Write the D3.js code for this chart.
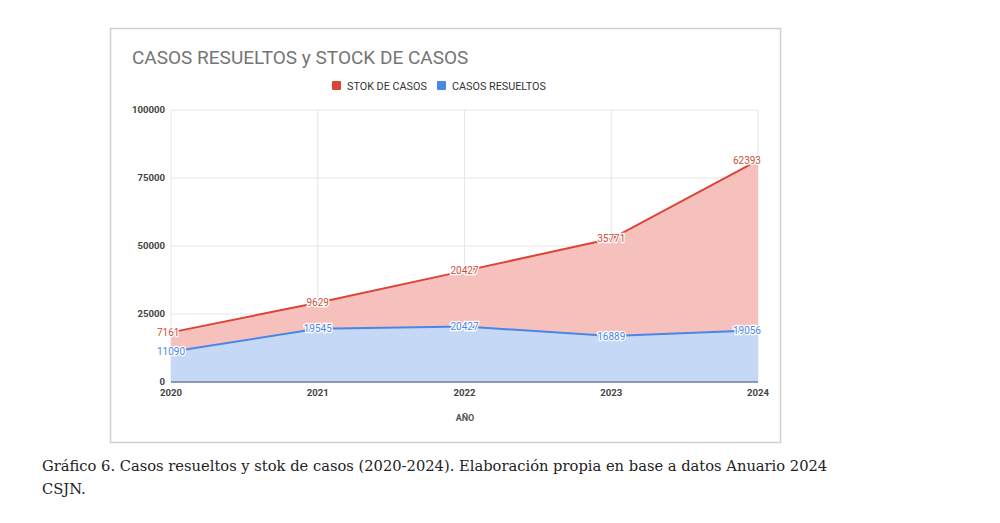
<!DOCTYPE html>
<html>
<head>
<meta charset="utf-8">
<script src="https://cdn.jsdelivr.net/npm/d3@7"></script>
<style>
  body { margin: 0; background: #fff; }
  svg { display: block; }
</style>
</head>
<body>
<svg id="chart" width="1000" height="523"></svg>
<script>
var years = ["2020", "2021", "2022", "2023", "2024"];
var resueltos = [11090, 19545, 20427, 16889, 19056];
var stock = [7161, 9629, 20427, 35771, 62393];
var yTicks = [0, 25000, 50000, 75000, 100000];

var red = '#db4437', redFill = '#f6c1bd',
    blue = '#4a86e8', blueFill = '#c5d9f7';

var svg = d3.select('#chart');

// frame
svg.append('rect').attr('x', 110.5).attr('y', 28.5).attr('width', 670).attr('height', 414)
  .attr('fill', '#fff').attr('stroke', '#d0d0d0').attr('stroke-width', 1.5);

svg.append('text').attr('x', 132).attr('y', 64).text('CASOS RESUELTOS y STOCK DE CASOS')
  .style('font-family', 'Roboto, Arial, sans-serif').style('font-size', '19px').attr('fill', '#757575');

// legend
var legend = [{name: 'STOK DE CASOS', color: red, x: 332}, {name: 'CASOS RESUELTOS', color: blue, x: 437}];
var lg = svg.selectAll('.lg').data(legend).enter().append('g').attr('transform', function(d) { return 'translate(' + d.x + ',81)'; });
lg.append('rect').attr('width', 9).attr('height', 9).attr('rx', 1).attr('fill', function(d) { return d.color; });
lg.append('text').attr('x', 15).attr('y', 8.5).text(function(d) { return d.name; })
  .style('font-family', 'Roboto, Arial, sans-serif').style('font-size', '10.8px').attr('fill', '#333');

var x = d3.scalePoint().domain(years).range([171, 758]);
var y = d3.scaleLinear().domain([0, 100000]).range([382, 110]);

var grid = svg.append('g');
grid.selectAll('.hg').data(yTicks).enter().append('line')
  .attr('x1', 171).attr('x2', 758).attr('y1', function(d) { return y(d); }).attr('y2', function(d) { return y(d); })
  .attr('stroke', '#e6e6e6');
grid.selectAll('.vg').data(years).enter().append('line')
  .attr('y1', 110).attr('y2', 382).attr('x1', function(d) { return x(d); }).attr('x2', function(d) { return x(d); })
  .attr('stroke', '#e6e6e6');

var rows = years.map(function(yr, i) { return {year: yr, resueltos: resueltos[i], stock: stock[i]}; });
var series = d3.stack().keys(['resueltos', 'stock'])(rows);
var fills = [blueFill, redFill], lines = [blue, red];

var area = d3.area().x(function(d) { return x(d.data.year); }).y0(function(d) { return y(d[0]); }).y1(function(d) { return y(d[1]); });
var line = d3.line().x(function(d) { return x(d.data.year); }).y(function(d) { return y(d[1]); });

svg.selectAll('.area').data(series).enter().append('path')
  .attr('d', area).attr('fill', function(d, i) { return fills[i]; });
svg.selectAll('.line').data(series).enter().append('path')
  .attr('d', line).attr('fill', 'none').attr('stroke-width', 2).attr('stroke', function(d, i) { return lines[i]; });

// baseline
svg.append('line').attr('x1', 171).attr('x2', 758).attr('y1', y(0)).attr('y2', y(0)).attr('stroke', '#6f7fa8').attr('stroke-width', 1.5);

// y labels
svg.append('g').selectAll('text').data(yTicks).enter().append('text')
  .attr('x', 165).attr('y', function(d) { return y(d) + 3; }).attr('text-anchor', 'end').text(function(d) { return d; })
  .style('font-family', 'Roboto, Arial, sans-serif').style('font-size', '9.6px').style('font-weight', 'bold').attr('fill', '#444');

// x labels
svg.append('g').selectAll('text').data(years).enter().append('text')
  .attr('x', function(d) { return x(d); }).attr('y', 396).attr('text-anchor', 'middle').text(function(d) { return d; })
  .style('font-family', 'Roboto, Arial, sans-serif').style('font-size', '9.6px').style('font-weight', 'bold').attr('fill', '#444');

svg.append('text').attr('x', 465).attr('y', 421).attr('text-anchor', 'middle').text('AÑO')
  .style('font-family', 'Roboto, Arial, sans-serif').style('font-size', '9px').style('font-weight', 'bold').attr('fill', '#555');

// data labels
series.forEach(function(s, si) {
  svg.append('g').selectAll('text').data(s).enter().append('text')
    .attr('x', function(d) { return x(d.data.year); })
    .attr('y', function(d) { return y(d[1]) + 3.5; })
    .attr('text-anchor', function(d, i) { return i === 0 ? 'start' : (i === s.length - 1 ? 'end' : 'middle'); })
    .attr('dx', function(d, i) { return i === 0 ? -14 : (i === s.length - 1 ? 3 : 0); })
    .text(function(d) { return d.data[s.key]; })
    .style('font-family', 'Roboto, Arial, sans-serif').style('font-size', '10px')
    .attr('fill', si === 0 ? '#4a86e8' : '#c9503f')
    .attr('stroke', '#fff').attr('stroke-width', 2.5).attr('paint-order', 'stroke');
});

// caption
var cap = svg.append('text').style('font-family', '"DejaVu Serif", "Liberation Serif", serif').style('font-size', '14.7px').attr('fill', '#222');
cap.append('tspan').attr('x', 42).attr('y', 471).text('Gráfico 6. Casos resueltos y stok de casos (2020-2024). Elaboración propia en base a datos Anuario 2024');
cap.append('tspan').attr('x', 42).attr('y', 494).text('CSJN.');
</script>
</body>
</html>
